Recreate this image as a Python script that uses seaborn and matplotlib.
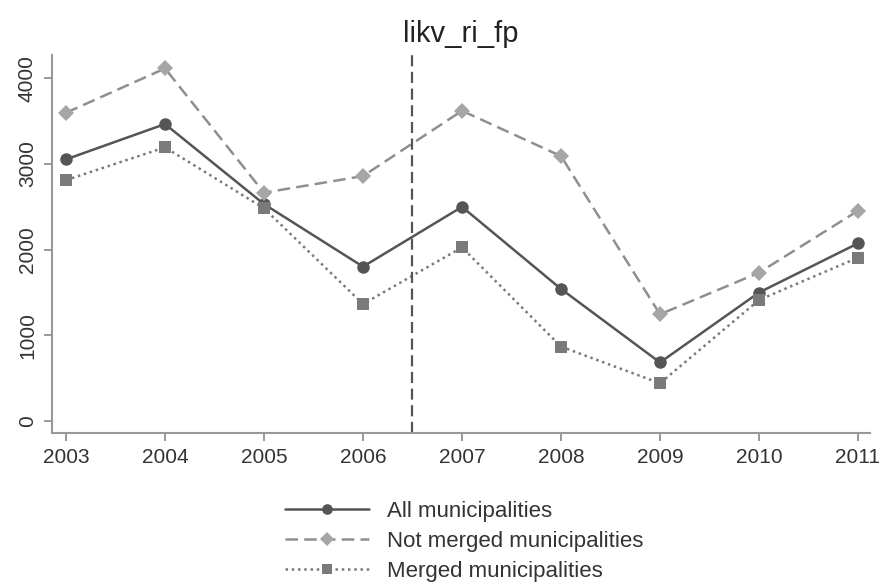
import numpy as np
import pandas as pd
import matplotlib
matplotlib.use('Agg')
import matplotlib.pyplot as plt
import seaborn as sns

# Values
years = [2003, 2004, 2005, 2006, 2007, 2008, 2009, 2010, 2011]
all_muni = [3052, 3464, 2530, 1800, 2498, 1540, 682, 1498, 2072]
not_merged = [3596, 4113, 2663, 2857, 3619, 3090, 1244, 1730, 2452]
merged = [2810, 3192, 2481, 1364, 2025, 867, 439, 1411, 1905]
y_ticks = [0, 1000, 2000, 3000, 4000]
reform_year = 2006.5

sns.set_theme(style='white')
plt.rcParams['font.family'] = ['Liberation Sans', 'DejaVu Sans']

fig = plt.figure(figsize=(8.84, 5.85), dpi=100)
ax = fig.add_axes([0.059, 0.26, 0.925, 0.646])

sns.lineplot(x=years, y=all_muni, ax=ax, color='#555555', linestyle='-',
             marker='o', markersize=9, markeredgewidth=0, linewidth=1.8,
             label='All municipalities')
sns.lineplot(x=years, y=not_merged, ax=ax, color='#8f8f8f', linestyle=(0, (5, 2.5)),
             marker='D', markersize=8, markeredgewidth=0, markerfacecolor='#a6a6a6',
             linewidth=1.8, label='Not merged municipalities')
sns.lineplot(x=years, y=merged, ax=ax, color='#7a7a7a', linestyle=(0, (1, 1.5)),
             marker='s', markersize=8, markeredgewidth=0, linewidth=1.8,
             label='Merged municipalities')

ax.axvline(reform_year, color='#555555', linestyle=(0, (5, 2.5)), linewidth=1.6)

ax.set_xlim(2002.86, 2011.12)
ax.set_ylim(-140, 4270)
ax.set_xticks(years)
ax.set_yticks(y_ticks)
ax.tick_params(axis='both', which='major', length=6, width=1.2, color='#888888',
               labelsize=15, labelcolor='#333333', direction='out', bottom=True, left=True,
               pad=5)
ax.tick_params(axis='y', labelrotation=90)
for lab in ax.get_yticklabels():
    lab.set_va('center')

for side in ['top', 'right']:
    ax.spines[side].set_visible(False)
for side in ['left', 'bottom']:
    ax.spines[side].set_color('#999999')
    ax.spines[side].set_linewidth(1.5)

ax.set_title('likv_ri_fp', fontsize=21, color='#222222', pad=9)

ax.get_legend().remove()
handles, labels = ax.get_legend_handles_labels()
fig.legend(handles, labels, loc='center', bbox_to_anchor=(0.525, 0.075),
           frameon=False, fontsize=16, handlelength=3.8, handletextpad=0.8,
           labelspacing=0.4, labelcolor='#333333', markerscale=0.85)

fig.savefig('out.png', dpi=100)
